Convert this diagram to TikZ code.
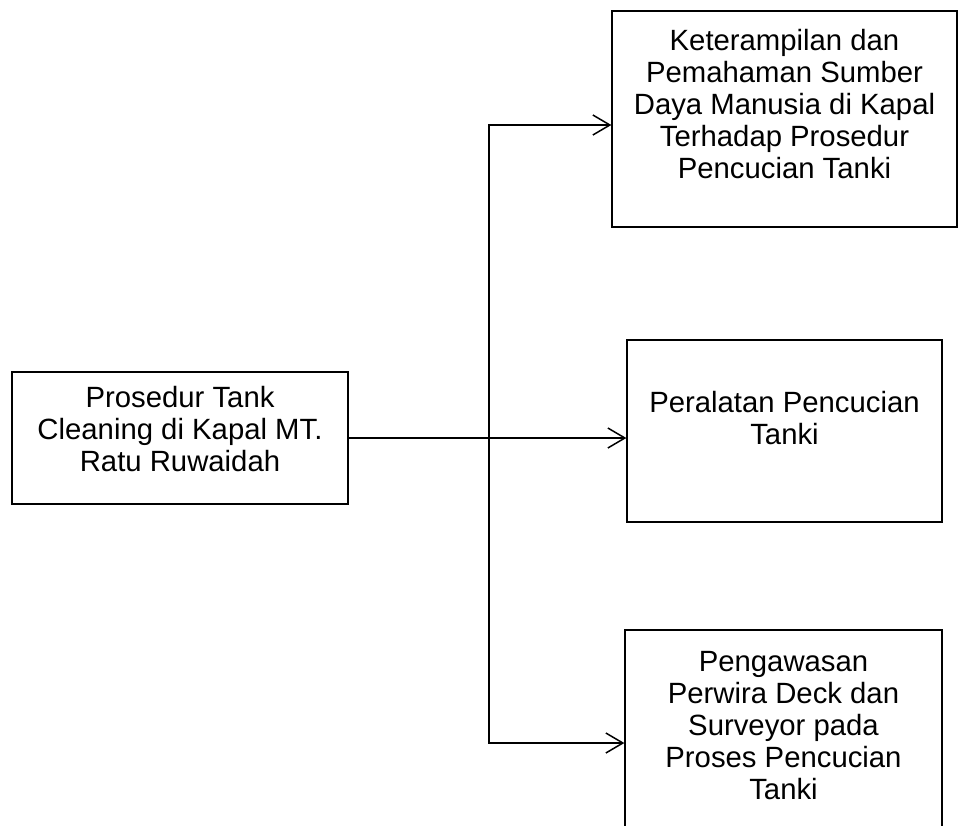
\documentclass[tikz,border=0pt]{standalone}
\usepackage{fontspec}
\setmainfont{Liberation Sans}
\usepackage{tikz}
\usetikzlibrary{arrows.meta,positioning,calc}

\begin{document}
\begin{tikzpicture}[
    x=1pt,y=-1pt,
    box/.style={draw,line width=1.3pt,inner sep=0pt},
    txt/.style={anchor=north,inner sep=0pt,align=center,font=\fontsize{29.3}{32}\selectfont},
    conn/.style={line width=1.5pt,line join=miter},
    barb/.tip={Straight Barb[length=17pt,width=20pt,line width=1.5pt]},
    arr/.style={conn,-barb},
    darr/.style={conn,barb-barb}
  ]
  \useasboundingbox (0,0) rectangle (958,825);
  \node [box,minimum width=336pt,minimum height=132pt,
    label={[txt,yshift=-15pt]north:{Prosedur Tank\\Cleaning di Kapal MT.\\Ratu Ruwaidah}}]
    (prs) at (180,438) {};
  \node [box,minimum width=345pt,minimum height=216pt,
    label={[txt,yshift=-19pt]north:{Keterampilan dan\\Pemahaman Sumber\\Daya Manusia di Kapal\\Terhadap Prosedur\\Pencucian Tanki}}]
    (ktr) at (784.5,119) {};
  \node [box,minimum width=315pt,minimum height=182pt,
    label={[txt,yshift=-52pt]north:{Peralatan Pencucian\\Tanki}}]
    (prl) at (784.5,431) {};
  \node [box,minimum width=317pt,minimum height=210pt,
    label={[txt,yshift=-22pt]north:{Pengawasan\\Perwira Deck dan\\Surveyor pada\\Proses Pencucian\\Tanki}}]
    (pws) at (783.5,735) {};
  \coordinate (jt) at (489,125);
  \coordinate (jb) at (489,743);
  \draw [arr] (prs.east) -- (prs.east -| prl.west);
  \draw [darr] (jt -| ktr.west) -- (jt) -- (jb) -- (jb -| pws.west);
\end{tikzpicture}
\end{document}
